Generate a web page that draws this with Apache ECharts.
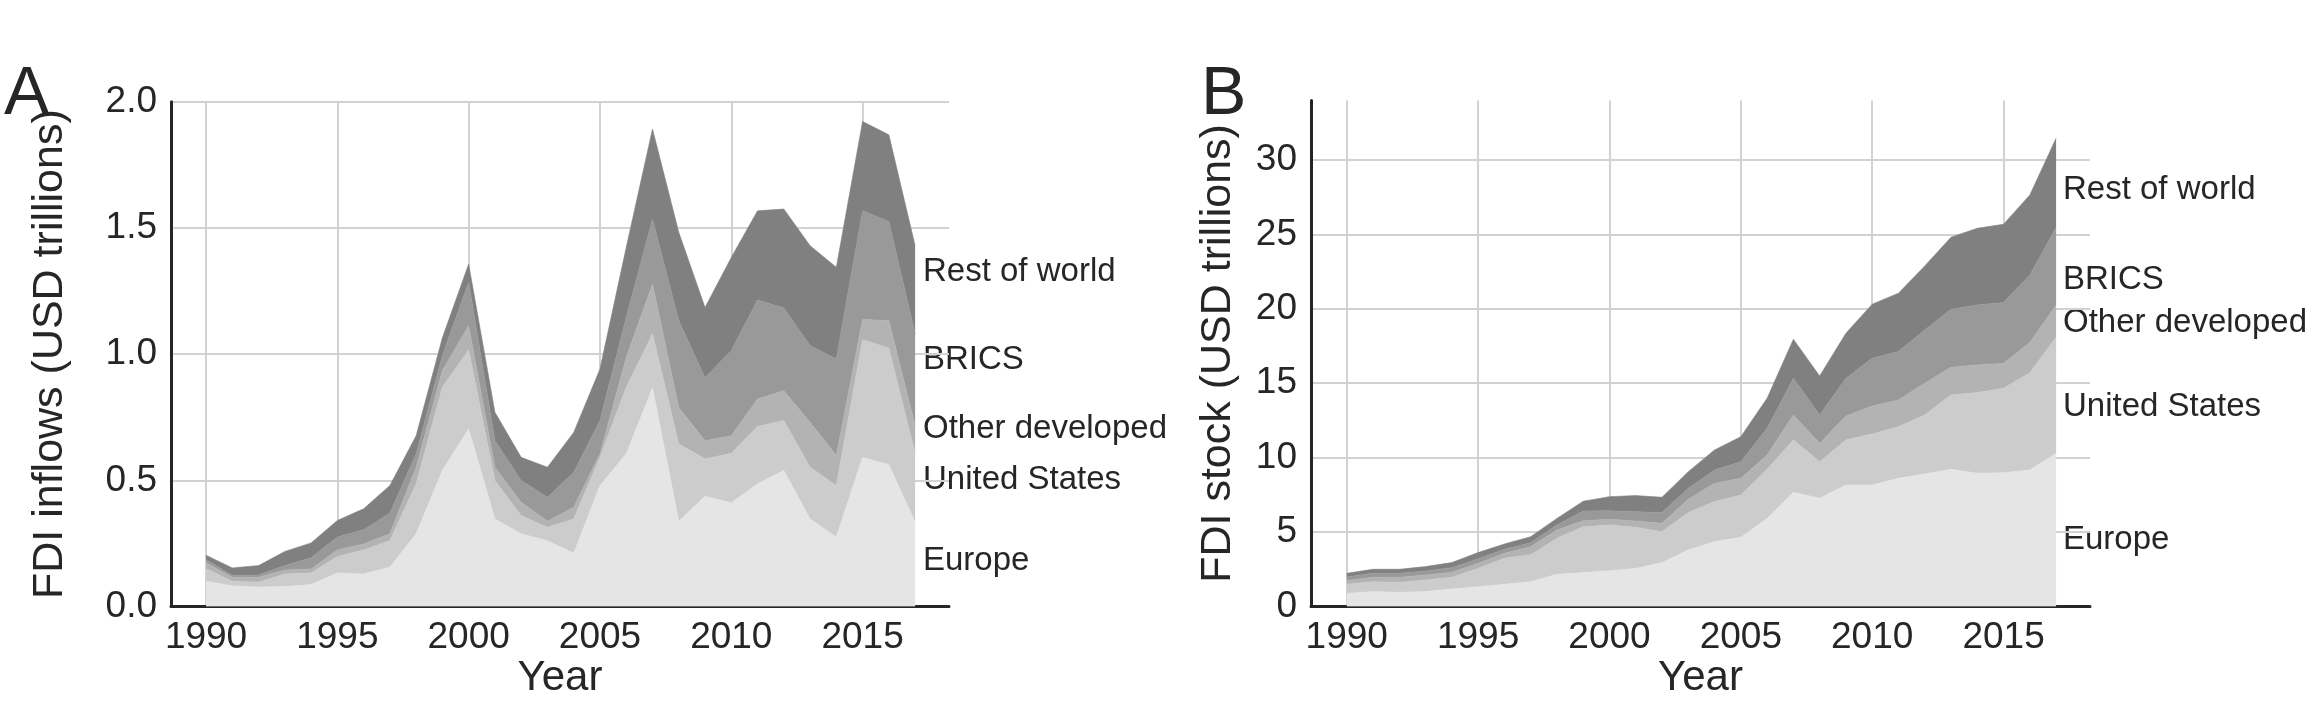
<!DOCTYPE html>
<html>
<head>
<meta charset="utf-8">
<script src="https://cdn.jsdelivr.net/npm/echarts@6/dist/echarts.min.js"></script>
<style>
html,body{margin:0;padding:0;background:#ffffff;}
#chart{width:2315px;height:711px;}
</style>
</head>
<body>
<div id="chart"></div>
<script>
// ---------- data ----------
const years = [1990,1991,1992,1993,1994,1995,1996,1997,1998,1999,2000,2001,2002,2003,2004,2005,2006,2007,2008,2009,2010,2011,2012,2013,2014,2015,2016,2017];
const layerNames = ['Europe','United States','Other developed','BRICS','Rest of world'];

// Panel A: FDI inflows (USD trillions), per layer (stacked)
const inflowEurope = [0.100,0.081,0.077,0.079,0.087,0.133,0.129,0.156,0.288,0.539,0.704,0.347,0.288,0.261,0.211,0.479,0.605,0.866,0.338,0.437,0.411,0.486,0.539,0.347,0.275,0.591,0.562,0.334];
const inflowUS     = [0.050,0.019,0.019,0.050,0.046,0.065,0.095,0.105,0.198,0.330,0.313,0.152,0.072,0.053,0.136,0.112,0.264,0.214,0.306,0.148,0.196,0.227,0.198,0.205,0.204,0.466,0.462,0.273];
const inflowOther  = [0.023,0.016,0.020,0.016,0.016,0.026,0.024,0.027,0.066,0.066,0.096,0.053,0.053,0.024,0.046,0.014,0.118,0.198,0.145,0.072,0.070,0.109,0.118,0.178,0.119,0.080,0.109,0.110];
const inflowBRICS  = [0.013,0.007,0.009,0.017,0.044,0.051,0.056,0.082,0.053,0.060,0.172,0.105,0.086,0.095,0.139,0.132,0.159,0.257,0.344,0.249,0.337,0.393,0.328,0.304,0.383,0.431,0.393,0.363];
const inflowRest   = [0.017,0.030,0.037,0.056,0.059,0.066,0.083,0.109,0.072,0.070,0.072,0.113,0.092,0.119,0.158,0.204,0.277,0.357,0.350,0.279,0.369,0.353,0.392,0.396,0.363,0.354,0.343,0.350];

// Panel B: FDI stock (USD trillions), per layer (stacked)
const stockEurope = [0.88,1.00,0.95,1.00,1.18,1.33,1.49,1.67,2.16,2.28,2.41,2.56,2.95,3.80,4.36,4.65,5.92,7.67,7.27,8.16,8.16,8.61,8.90,9.22,8.95,8.99,9.17,10.29];
const stockUS     = [0.62,0.67,0.67,0.78,0.78,1.23,1.75,1.80,2.42,3.08,3.07,2.76,2.08,2.51,2.69,2.84,3.30,3.52,2.46,3.03,3.43,3.47,3.97,4.99,5.42,5.67,6.54,7.80];
const stockOther  = [0.25,0.29,0.34,0.34,0.34,0.34,0.33,0.55,0.56,0.40,0.38,0.43,0.56,0.89,1.23,1.12,0.96,1.68,1.23,1.61,1.88,1.80,2.13,1.86,1.86,1.68,2.02,2.17];
const stockBRICS  = [0.24,0.27,0.27,0.27,0.31,0.31,0.27,0.27,0.34,0.66,0.58,0.62,0.72,0.74,0.89,1.12,1.79,2.46,1.91,2.53,3.21,3.25,3.58,3.90,4.03,4.08,4.54,5.21];
const stockRest   = [0.24,0.27,0.27,0.29,0.34,0.41,0.36,0.40,0.44,0.65,0.94,1.08,1.03,1.12,1.35,1.68,2.02,2.62,2.62,3.03,3.63,3.92,4.30,4.84,5.15,5.26,5.38,5.99];

// tick labels
const xTickYears = [1990,1995,2000,2005,2010,2015];
const inflowTicks = [0,0.5,1.0,1.5,2.0];
const stockTicks = [0,5,10,15,20,25,30];

// ---------- styling ----------
const layerColors = ['#e5e5e5','#cccccc','#b3b3b3','#999999','#808080'];
const FONT = "'Liberation Sans', Arial, Helvetica, sans-serif";
const TXT = '#262626';
const GRIDC = '#d2d2d2';

const chart = echarts.init(document.getElementById('chart'), null, {renderer:'canvas'});

function xAxisDef(gridIndex, min, max){
  return {
    type:'value', gridIndex, min, max,
    axisLine:{show:true, onZero:false, lineStyle:{color:TXT, width:3}},
    axisTick:{show:false, customValues:xTickYears},
    axisLabel:{customValues:xTickYears, color:TXT, fontSize:37, fontFamily:FONT, margin:13,
      formatter:v=>String(v)},
    splitLine:{show:true, lineStyle:{color:GRIDC, width:2}},
    name:'Year', nameLocation:'middle', nameGap:51, nameMoveOverlap:false,
    nameTextStyle:{color:TXT, fontSize:42, fontFamily:FONT}
  };
}

function yAxisDef(gridIndex, max, ticks, name, gap, fmt){
  return {
    type:'value', gridIndex, min:0, max,
    axisLine:{show:true, lineStyle:{color:TXT, width:3}},
    axisTick:{show:false, customValues:ticks},
    axisLabel:{customValues:ticks, color:TXT, fontSize:37, fontFamily:FONT, margin:14, formatter:fmt},
    splitLine:{show:true, lineStyle:{color:GRIDC, width:2}},
    name, nameLocation:'middle', nameGap:gap,
    nameTextStyle:{color:TXT, fontSize:43, fontFamily:FONT}
  };
}

const inflowLayers = [inflowEurope, inflowUS, inflowOther, inflowBRICS, inflowRest];
const stockLayers  = [stockEurope, stockUS, stockOther, stockBRICS, stockRest];

// value first, year second, so the stacked dimension is the value (y)
function makeSeries(layers, axisIndex, stackName){
  return layers.map((arr,i)=>({
    name:layerNames[i], type:'line', xAxisIndex:axisIndex, yAxisIndex:axisIndex, stack:stackName,
    data: years.map((y,j)=>[arr[j], y]),
    encode:{x:1, y:0},
    symbol:'none', showSymbol:false,
    lineStyle:{width:0.6, color:layerColors[i]},
    areaStyle:{color:layerColors[i], opacity:1},
    silent:true, z:2
  }));
}
const series = makeSeries(inflowLayers, 0, 'inflow').concat(makeSeries(stockLayers, 1, 'stock'));

function txt(x, y, text, size){
  return {type:'text', x, y, silent:true,
    style:{text, fill:TXT, fontSize:size, fontFamily:FONT, align:'left', verticalAlign:'middle'}};
}

const option = {
  animation:false,
  backgroundColor:'#ffffff',
  grid:[
    {left:171, top:101.8, width:778, height:504.7, outerBoundsMode:'none', containLabel:false},
    {left:1311, top:100.4, width:779, height:506.1, outerBoundsMode:'none', containLabel:false}
  ],
  xAxis:[ xAxisDef(0, 1988.666, 2018.29), xAxisDef(1, 1988.64, 2018.29) ],
  yAxis:[
    yAxisDef(0, 2.0, inflowTicks, 'FDI inflows (USD trillions)', 99, v=>Number(v).toFixed(1)),
    yAxisDef(1, 34, stockTicks, 'FDI stock (USD trillions)', 71, v=>String(v))
  ],
  series,
  graphic:[
    txt(4, 95, 'A', 68),
    txt(1201, 95, 'B', 68),
    txt(923, 272, 'Rest of world', 33),
    txt(923, 360, 'BRICS', 33),
    txt(923, 429, 'Other developed', 33),
    txt(923, 480, 'United States', 33),
    txt(923, 561, 'Europe', 33),
    txt(2063, 190, 'Rest of world', 33),
    txt(2063, 280, 'BRICS', 33),
    txt(2063, 323, 'Other developed', 33),
    txt(2063, 407, 'United States', 33),
    txt(2063, 540, 'Europe', 33)
  ]
};
chart.setOption(option);
</script>
</body>
</html>
